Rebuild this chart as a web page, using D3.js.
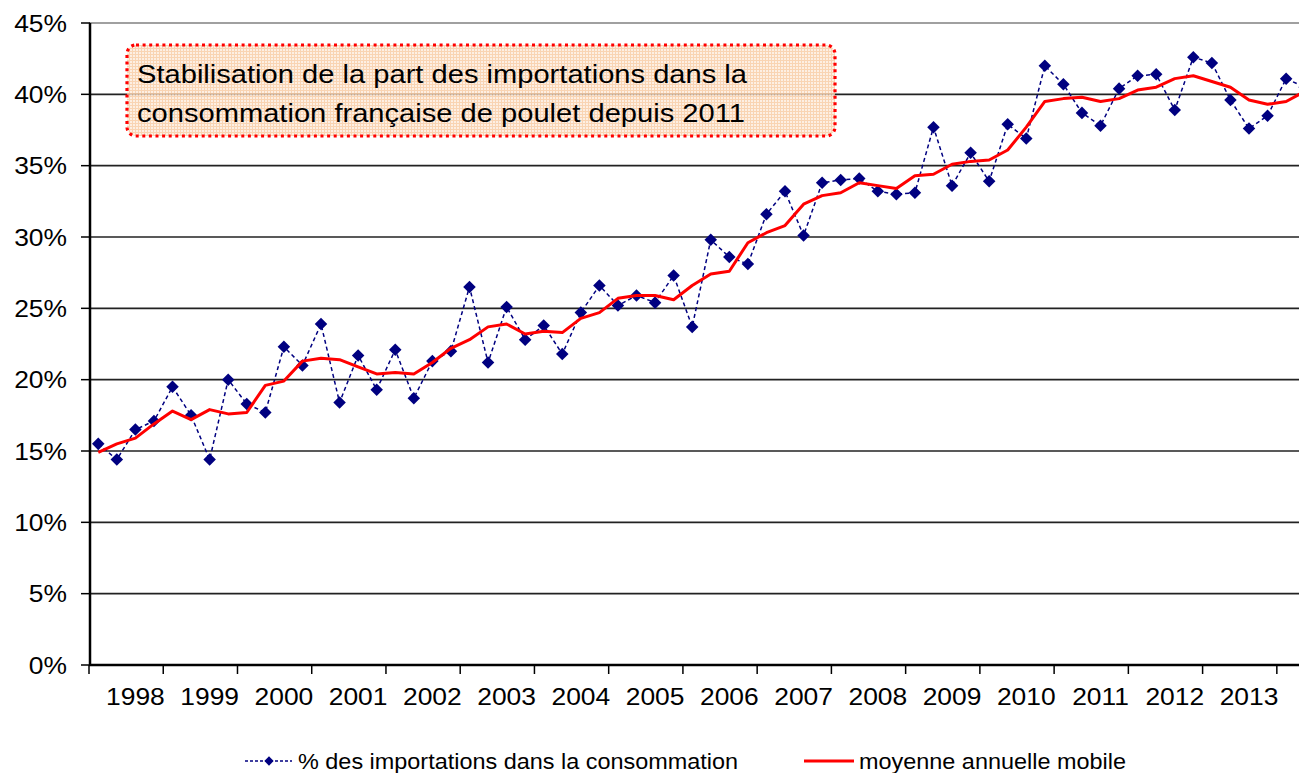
<!DOCTYPE html>
<meta charset="utf-8">
<script src="https://cdn.jsdelivr.net/npm/d3@7/dist/d3.min.js"></script>
<style>
    body { margin: 0; background: #fff; }
    svg text { font-family: Arial, "Liberation Sans", sans-serif; fill: #000; }
</style>
<body>
<svg width="1299" height="773"></svg>
</body>
<script>

    // annees affichees sous l'axe
    var annees = ["1998", "1999", "2000", "2001", "2002", "2003", "2004", "2005",
        "2006", "2007", "2008", "2009", "2010", "2011", "2012", "2013", "2014"];

    // % des importations dans la consommation (trimestriel, 1998 T1 -> 2014 T2)
    var importations = [
        15.5, 14.4, 16.5, 17.1, 19.5, 17.5, 14.4, 20.0,
        18.3, 17.7, 22.3, 21.0, 23.9, 18.4, 21.7, 19.3,
        22.1, 18.7, 21.3, 22.0, 26.5, 21.2, 25.1, 22.8,
        23.8, 21.8, 24.7, 26.6, 25.2, 25.9, 25.4, 27.3,
        23.7, 29.8, 28.6, 28.1, 31.6, 33.2, 30.1, 33.8,
        34.0, 34.1, 33.2, 33.0, 33.1, 37.7, 33.6, 35.9,
        33.9, 37.9, 36.9, 42.0, 40.7, 38.7, 37.8, 40.4,
        41.3, 41.4, 38.9, 42.6, 42.2, 39.6, 37.6, 38.5,
        41.1, 40.5
    ];

    // moyenne annuelle mobile
    var moyenne = [
        14.9, 15.5, 15.9, 16.9, 17.8, 17.2, 17.9, 17.6,
        17.7, 19.6, 19.9, 21.3, 21.5, 21.4, 20.9, 20.4,
        20.5, 20.4, 21.2, 22.2, 22.8, 23.7, 23.9, 23.2,
        23.4, 23.3, 24.3, 24.7, 25.7, 25.9, 25.9, 25.6,
        26.6, 27.4, 27.6, 29.6, 30.3, 30.8, 32.3, 32.9,
        33.1, 33.8, 33.6, 33.4, 34.3, 34.4, 35.1, 35.3,
        35.4, 36.1, 37.7, 39.5, 39.7, 39.8, 39.5, 39.7,
        40.3, 40.5, 41.1, 41.3, 40.9, 40.5, 39.6, 39.3,
        39.5, 40.2
    ];

    var yTicks = [0, 5, 10, 15, 20, 25, 30, 35, 40, 45];

    var titre = ["Stabilisation de la part des importations dans la",
        "consommation française de poulet depuis 2011"];

    var legendes = ["% des importations dans la consommation", "moyenne annuelle mobile"];

    // trimestres (categories)
    var trimestres = [];
    annees.forEach(function (a) {
        for (var q = 1; q <= 4; q++) trimestres.push(a + "T" + q);
    });
    trimestres = trimestres.slice(0, importations.length);

    var width = 1299, height = 773;
    var plotLeft = 89, plotTop = 23, plotBottom = 665, qw = 18.56;

    var svg = d3.select('svg');

    var x = d3.scaleBand()
        .domain(trimestres)
        .range([plotLeft, plotLeft + trimestres.length * qw])
        .padding(0);

    var y = d3.scaleLinear()
        .domain([0, 45])
        .range([plotBottom, plotTop]);

    function cx(i) { return x(trimestres[i]) + x.bandwidth() / 2; }

    // texte etire horizontalement (la police d'origine est plus large)
    function texte(g, tx, ty, s, size, sx, anchor) {
        return g.append('text')
            .attr('transform', 'translate(' + tx + ',' + ty + ') scale(' + sx + ',1)')
            .attr('text-anchor', anchor || 'start')
            .style('font-size', size + 'px')
            .text(s);
    }

    // motif du cadre (quadrillage peche)
    var defs = svg.append('defs');
    var pat = defs.append('pattern')
        .attr('id', 'peche')
        .attr('width', 3).attr('height', 3)
        .attr('patternUnits', 'userSpaceOnUse');
    pat.append('rect').attr('width', 3).attr('height', 3).attr('fill', '#fdebdc');
    pat.append('path').attr('d', 'M0,0.5H3M0.5,0V3')
        .attr('stroke', '#f8c9a0').attr('stroke-width', 1);

    // quadrillage horizontal
    svg.append('g').selectAll('line')
        .data(yTicks.filter(function (d) { return d > 0; }))
        .enter().append('line')
        .attr('x1', plotLeft).attr('x2', width)
        .attr('y1', function (d) { return y(d); })
        .attr('y2', function (d) { return y(d); })
        .attr('stroke', function (d) { return d == 45 ? '#808080' : '#222'; })
        .attr('stroke-width', 1.6);

    // axe Y
    var gy = svg.append('g');
    gy.selectAll('line')
        .data(yTicks)
        .enter().append('line')
        .attr('x1', plotLeft - 8).attr('x2', plotLeft + 1)
        .attr('y1', function (d) { return y(d); })
        .attr('y2', function (d) { return y(d); })
        .attr('stroke', '#000').attr('stroke-width', 1.5);
    yTicks.forEach(function (d) {
        texte(gy, 67, y(d) + 8.5, d + '%', 24, 1.1, 'end');
    });
    svg.append('line')
        .attr('x1', plotLeft + 1).attr('x2', plotLeft + 1)
        .attr('y1', plotTop).attr('y2', plotBottom)
        .attr('stroke', '#000').attr('stroke-width', 2.5);

    // axe X
    svg.append('line')
        .attr('x1', plotLeft).attr('x2', width)
        .attr('y1', plotBottom).attr('y2', plotBottom)
        .attr('stroke', '#000').attr('stroke-width', 2.5);

    var debutsAnnee = trimestres.filter(function (t) { return t.slice(4) == 'T1'; });
    svg.append('g').selectAll('line')
        .data(debutsAnnee)
        .enter().append('line')
        .attr('x1', function (d) { return x(d); })
        .attr('x2', function (d) { return x(d); })
        .attr('y1', plotBottom).attr('y2', plotBottom + 9)
        .attr('stroke', '#000').attr('stroke-width', 1.5);

    var gx = svg.append('g');
    annees.slice(0, 16).forEach(function (a) {
        texte(gx, x(a + 'T3') + x.bandwidth() / 2, 705, a, 24, 1.1, 'middle');
    });

    // cadre du titre
    svg.append('rect')
        .attr('x', 127).attr('y', 45)
        .attr('width', 708).attr('height', 91)
        .attr('rx', 9).attr('ry', 9)
        .attr('fill', 'url(#peche)')
        .attr('fill-opacity', 0.8)
        .attr('stroke', '#ff0000')
        .attr('stroke-width', 3.2)
        .attr('stroke-dasharray', '3,3.6');

    var gt = svg.append('g');
    titre.forEach(function (s, i) {
        texte(gt, 137, 83 + i * 39, s, 26, 1.12);
    });

    // series
    var ligne = function (vals) {
        return d3.line()
            .x(function (d, i) { return cx(i); })
            .y(function (d) { return y(d); })(vals);
    };

    svg.append('path')
        .attr('d', ligne(importations))
        .attr('fill', 'none')
        .attr('stroke', '#000080')
        .attr('stroke-width', 1.5)
        .attr('stroke-dasharray', '4,3');

    var losange = d3.symbol().type(d3.symbolDiamond2).size(100);

    svg.append('g').selectAll('path')
        .data(importations)
        .enter().append('path')
        .attr('d', losange)
        .attr('transform', function (d, i) { return 'translate(' + cx(i) + ',' + y(d) + ')'; })
        .attr('fill', '#000080');

    svg.append('path')
        .attr('d', ligne(moyenne))
        .attr('fill', 'none')
        .attr('stroke', '#ff0000')
        .attr('stroke-width', 3)
        .attr('stroke-linejoin', 'round');

    // legende
    var lg = svg.append('g');
    lg.append('line')
        .attr('x1', 245).attr('x2', 292).attr('y1', 761).attr('y2', 761)
        .attr('stroke', '#000080').attr('stroke-width', 1.3).attr('stroke-dasharray', '3,2');
    lg.append('path')
        .attr('d', d3.symbol().type(d3.symbolDiamond2).size(55))
        .attr('transform', 'translate(269,761)')
        .attr('fill', '#000080');
    texte(lg, 298, 769, legendes[0], 22, 1.065);
    lg.append('line')
        .attr('x1', 804).attr('x2', 854).attr('y1', 761).attr('y2', 761)
        .attr('stroke', '#ff0000').attr('stroke-width', 3);
    texte(lg, 859, 769, legendes[1], 22, 1.065);

</script>
